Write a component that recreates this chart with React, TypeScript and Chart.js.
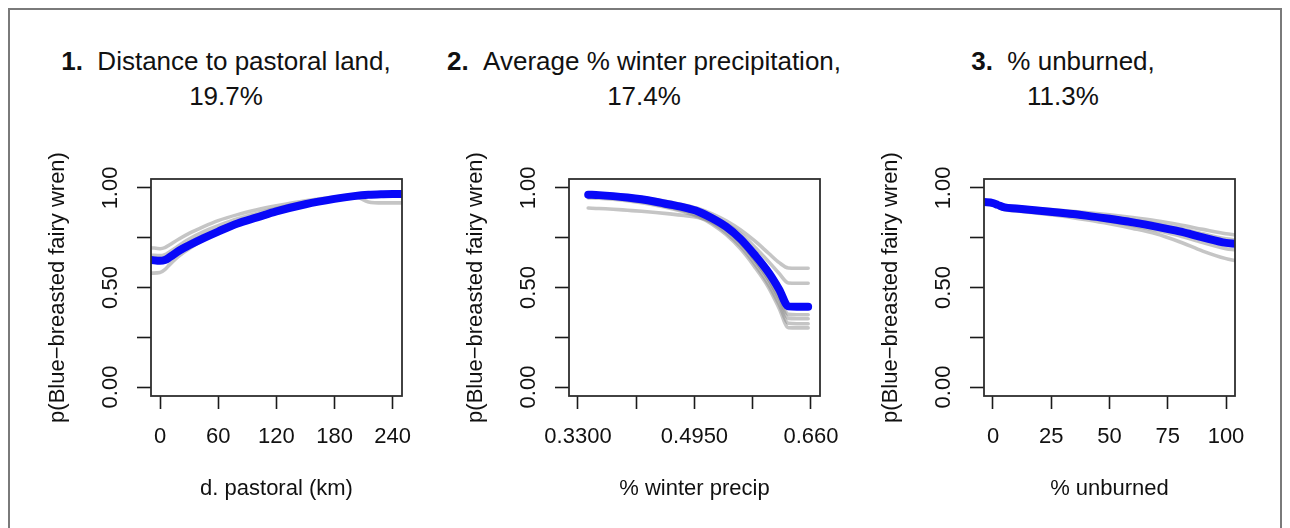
import React, { useEffect, useRef } from "react";
import { Chart, registerables } from "chart.js";

Chart.register(...registerables);

// ---------- shared axis data ----------
const yTicks = [0, 0.25, 0.5, 0.75, 1];
const yTickLabels = ["0.00", "", "0.50", "", "1.00"];
const yTitle = "p(Blue\u2212breasted fairy wren)";

// ---------- panel 1: distance to pastoral land ----------
const p1Title = "Distance to pastoral land,";
const p1Pct = "19.7%";
const p1XTitle = "d. pastoral (km)";
const p1XTicks = [0, 60, 120, 180, 240];
const p1XTickLabels = ["0", "60", "120", "180", "240"];
const p1X = [-9, 0, 5, 10, 20, 30, 45, 60, 80, 100, 120, 150, 180, 200, 215, 230, 240, 250];
const p1Mean = [0.638, 0.634, 0.638, 0.652, 0.686, 0.712, 0.748, 0.781, 0.822, 0.852, 0.882, 0.918, 0.945, 0.959, 0.966, 0.969, 0.97, 0.97];
const p1BootA = [0.7, 0.695, 0.7, 0.715, 0.745, 0.772, 0.806, 0.836, 0.866, 0.89, 0.91, 0.936, 0.955, 0.965, 0.97, 0.972, 0.972, 0.972];
const p1BootB = [0.572, 0.575, 0.59, 0.615, 0.66, 0.695, 0.74, 0.775, 0.815, 0.847, 0.876, 0.912, 0.94, 0.955, 0.962, 0.965, 0.966, 0.966];
const p1BootC = [0.662, 0.66, 0.665, 0.68, 0.712, 0.743, 0.78, 0.81, 0.845, 0.872, 0.897, 0.929, 0.95, 0.962, 0.967, 0.97, 0.97, 0.97];
const p1BootD = [0.65, 0.645, 0.65, 0.665, 0.695, 0.725, 0.76, 0.792, 0.83, 0.86, 0.888, 0.922, 0.946, 0.958, 0.93, 0.925, 0.925, 0.925];

// ---------- panel 2: average % winter precipitation ----------
const p2Title = "Average % winter precipitation,";
const p2Pct = "17.4%";
const p2XTitle = "% winter precip";
const p2XTicks = [0.33, 0.4125, 0.495, 0.5775, 0.66];
const p2XTickLabels = ["0.3300", "", "0.4950", "", "0.660"];
const p2X = [0.3445, 0.36, 0.38, 0.4, 0.42, 0.44, 0.46, 0.48, 0.5, 0.52, 0.54, 0.56, 0.58, 0.6, 0.615, 0.628, 0.64, 0.656];
const p2Mean = [0.966, 0.964, 0.959, 0.952, 0.943, 0.931, 0.917, 0.902, 0.882, 0.848, 0.805, 0.745, 0.665, 0.575, 0.49, 0.405, 0.403, 0.403];
const p2BootA = [0.972, 0.97, 0.966, 0.96, 0.952, 0.942, 0.93, 0.915, 0.897, 0.87, 0.835, 0.79, 0.735, 0.672, 0.625, 0.598, 0.597, 0.597];
const p2BootB = [0.968, 0.966, 0.962, 0.956, 0.947, 0.936, 0.923, 0.908, 0.89, 0.86, 0.82, 0.77, 0.705, 0.63, 0.57, 0.523, 0.521, 0.521];
const p2BootC = [0.899, 0.897, 0.893, 0.888, 0.883, 0.877, 0.87, 0.862, 0.852, 0.83, 0.79, 0.725, 0.64, 0.54, 0.45, 0.365, 0.363, 0.363];
const p2BootD = [0.96, 0.958, 0.953, 0.946, 0.937, 0.925, 0.911, 0.895, 0.873, 0.838, 0.79, 0.725, 0.64, 0.54, 0.44, 0.345, 0.343, 0.343];
const p2BootE = [0.955, 0.953, 0.948, 0.941, 0.931, 0.918, 0.903, 0.886, 0.862, 0.825, 0.775, 0.708, 0.62, 0.515, 0.415, 0.32, 0.318, 0.318];
const p2BootF = [0.95, 0.948, 0.943, 0.936, 0.926, 0.913, 0.898, 0.88, 0.856, 0.818, 0.765, 0.695, 0.605, 0.5, 0.395, 0.298, 0.297, 0.297];

// ---------- panel 3: % unburned ----------
const p3Title = "% unburned,";
const p3Pct = "11.3%";
const p3XTitle = "% unburned";
const p3XTicks = [0, 25, 50, 75, 100];
const p3XTickLabels = ["0", "25", "50", "75", "100"];
const p3X = [-3.9, 0, 2, 5, 10, 20, 30, 40, 50, 60, 70, 80, 90, 100, 103.9];
const p3Mean = [0.929, 0.924, 0.915, 0.902, 0.897, 0.885, 0.874, 0.861, 0.845, 0.827, 0.806, 0.782, 0.752, 0.724, 0.72];
const p3BootA = [0.935, 0.93, 0.922, 0.91, 0.905, 0.895, 0.887, 0.877, 0.865, 0.851, 0.835, 0.815, 0.792, 0.77, 0.765];
const p3BootB = [0.92, 0.915, 0.905, 0.89, 0.885, 0.872, 0.858, 0.84, 0.82, 0.797, 0.77, 0.73, 0.683, 0.645, 0.635];
const p3BootC = [0.932, 0.927, 0.918, 0.906, 0.901, 0.89, 0.88, 0.868, 0.854, 0.838, 0.819, 0.797, 0.77, 0.745, 0.74];
const p3BootD = [0.925, 0.92, 0.91, 0.897, 0.891, 0.878, 0.866, 0.851, 0.833, 0.812, 0.788, 0.76, 0.726, 0.695, 0.69];

// ---------- style constants ----------
const FONT = "'Liberation Sans', Arial, Helvetica, sans-serif";
const BLUE = "rgb(8, 8, 248)";
const GRAY = "rgba(140, 140, 140, 0.5)";
const INK = "#111111";
const BOX_TOP = 179;
const BOX_BOTTOM = 396;
const BOX_W = 251;
const CANVAS_TOP = 150;
const CANVAS_H = 370;
const Y_AXIS_W = 120;
const RIGHT_PAD = 45;

const panels = [
  {
    num: "1.", title: p1Title, pct: p1Pct, titleCenter: 226, boxLeft: 151,
    xTitle: p1XTitle, xTicks: p1XTicks, xTickLabels: p1XTickLabels, xMin: -9.3, xMax: 249.6,
    x: p1X, mean: p1Mean, boot: [p1BootA, p1BootB, p1BootC, p1BootD],
  },
  {
    num: "2.", title: p2Title, pct: p2Pct, titleCenter: 644, boxLeft: 569,
    xTitle: p2XTitle, xTicks: p2XTicks, xTickLabels: p2XTickLabels, xMin: 0.3173, xMax: 0.6728,
    x: p2X, mean: p2Mean, boot: [p2BootA, p2BootB, p2BootC, p2BootD, p2BootE, p2BootF],
  },
  {
    num: "3.", title: p3Title, pct: p3Pct, titleCenter: 1063, boxLeft: 984,
    xTitle: p3XTitle, xTicks: p3XTicks, xTickLabels: p3XTickLabels, xMin: -3.86, xMax: 103.86,
    x: p3X, mean: p3Mean, boot: [p3BootA, p3BootB, p3BootC, p3BootD],
  },
];

const boxPlugin = {
  id: "plotBox",
  afterDraw(chart: any) {
    const { ctx, chartArea: a } = chart;
    ctx.save();
    ctx.strokeStyle = "#2e2e2e";
    ctx.lineWidth = 1.8;
    ctx.strokeRect(a.left, a.top, a.right - a.left, a.bottom - a.top);
    ctx.restore();
  },
};

function labelFor(values: number[], labels: string[], v: number) {
  for (let i = 0; i < values.length; i++) {
    if (Math.abs(values[i] - v) < 1e-9) return labels[i];
  }
  return "";
}

function buildConfig(p: any): any {
  const pts = (ys: number[]) => p.x.map((x: number, i: number) => ({ x, y: ys[i] }));
  const common = { pointRadius: 0, fill: false, cubicInterpolationMode: "monotone", borderCapStyle: "round", borderJoinStyle: "round" };
  const datasets = [
    { data: pts(p.mean), borderColor: BLUE, borderWidth: 8, ...common },
    ...p.boot.map((b: number[]) => ({ data: pts(b), borderColor: GRAY, borderWidth: 3.6, ...common })),
  ];
  return {
    type: "line",
    data: { datasets },
    options: {
      animation: false,
      responsive: false,
      devicePixelRatio: 1,
      events: [],
      layout: { padding: { left: 0, right: RIGHT_PAD, top: BOX_TOP - CANVAS_TOP, bottom: 0 } },
      plugins: { legend: { display: false }, tooltip: { enabled: false }, title: { display: false } },
      scales: {
        x: {
          type: "linear",
          min: p.xMin,
          max: p.xMax,
          afterBuildTicks: (s: any) => { s.ticks = p.xTicks.map((v: number) => ({ value: v })); },
          afterFit: (s: any) => { s.height = CANVAS_TOP + CANVAS_H - BOX_BOTTOM; },
          ticks: {
            autoSkip: false, minRotation: 0, maxRotation: 0, padding: 15, color: INK,
            font: { family: FONT, size: 22 },
            callback: (v: number) => labelFor(p.xTicks, p.xTickLabels, v),
          },
          grid: { display: true, drawOnChartArea: false, drawTicks: true, tickLength: 13, tickColor: "#1a1a1a", tickWidth: 1.6 },
          border: { display: false },
          title: { display: true, text: p.xTitle, color: INK, font: { family: FONT, size: 22 }, padding: { top: 0, bottom: 18 } },
        },
        y: {
          type: "linear",
          min: -0.045,
          max: 1.045,
          afterBuildTicks: (s: any) => { s.ticks = yTicks.map((v) => ({ value: v })); },
          afterFit: (s: any) => { s.width = Y_AXIS_W; },
          ticks: {
            autoSkip: false, minRotation: 90, maxRotation: 90, crossAlign: "center", padding: 5, color: INK,
            font: { family: FONT, size: 22 },
            callback: (v: number) => labelFor(yTicks, yTickLabels, v),
          },
          grid: { display: true, drawOnChartArea: false, drawTicks: true, tickLength: 14, tickColor: "#1a1a1a", tickWidth: 1.6 },
          border: { display: false },
          title: { display: true, text: yTitle, color: INK, font: { family: FONT, size: 22 }, padding: { top: 14, bottom: 0 } },
        },
      },
    },
    plugins: [boxPlugin],
  };
}

function Panel({ p }: { p: any }) {
  const ref = useRef<HTMLCanvasElement>(null);
  useEffect(() => {
    if (!ref.current) return;
    const chart = new Chart(ref.current, buildConfig(p));
    return () => chart.destroy();
  }, [p]);
  const w = Y_AXIS_W + BOX_W + RIGHT_PAD;
  return (
    <>
      <div
        style={{
          position: "absolute",
          left: p.titleCenter - 8 - 260,
          top: 35.5,
          width: 520,
          textAlign: "center",
          fontFamily: FONT,
          fontSize: 26,
          lineHeight: "35px",
          color: INK,
          whiteSpace: "pre",
        }}
      >
        <b>{p.num}</b>
        {"\u00a0\u00a0" + p.title}
        <br />
        {p.pct}
      </div>
      <canvas
        ref={ref}
        width={w}
        height={CANVAS_H}
        style={{ position: "absolute", left: p.boxLeft - Y_AXIS_W - 8, top: CANVAS_TOP - 8, width: w, height: CANVAS_H }}
      />
    </>
  );
}

export default function App() {
  return (
    <div style={{ position: "relative", width: 1274, height: 520, overflow: "hidden", background: "#fff" }}>
      <div
        style={{
          position: "absolute",
          left: 0,
          top: 0,
          width: 1274,
          height: 600,
          boxSizing: "border-box",
          border: "2px solid #7a7a7a",
        }}
      />
      {panels.map((p, i) => (
        <Panel key={i} p={p} />
      ))}
    </div>
  );
}
